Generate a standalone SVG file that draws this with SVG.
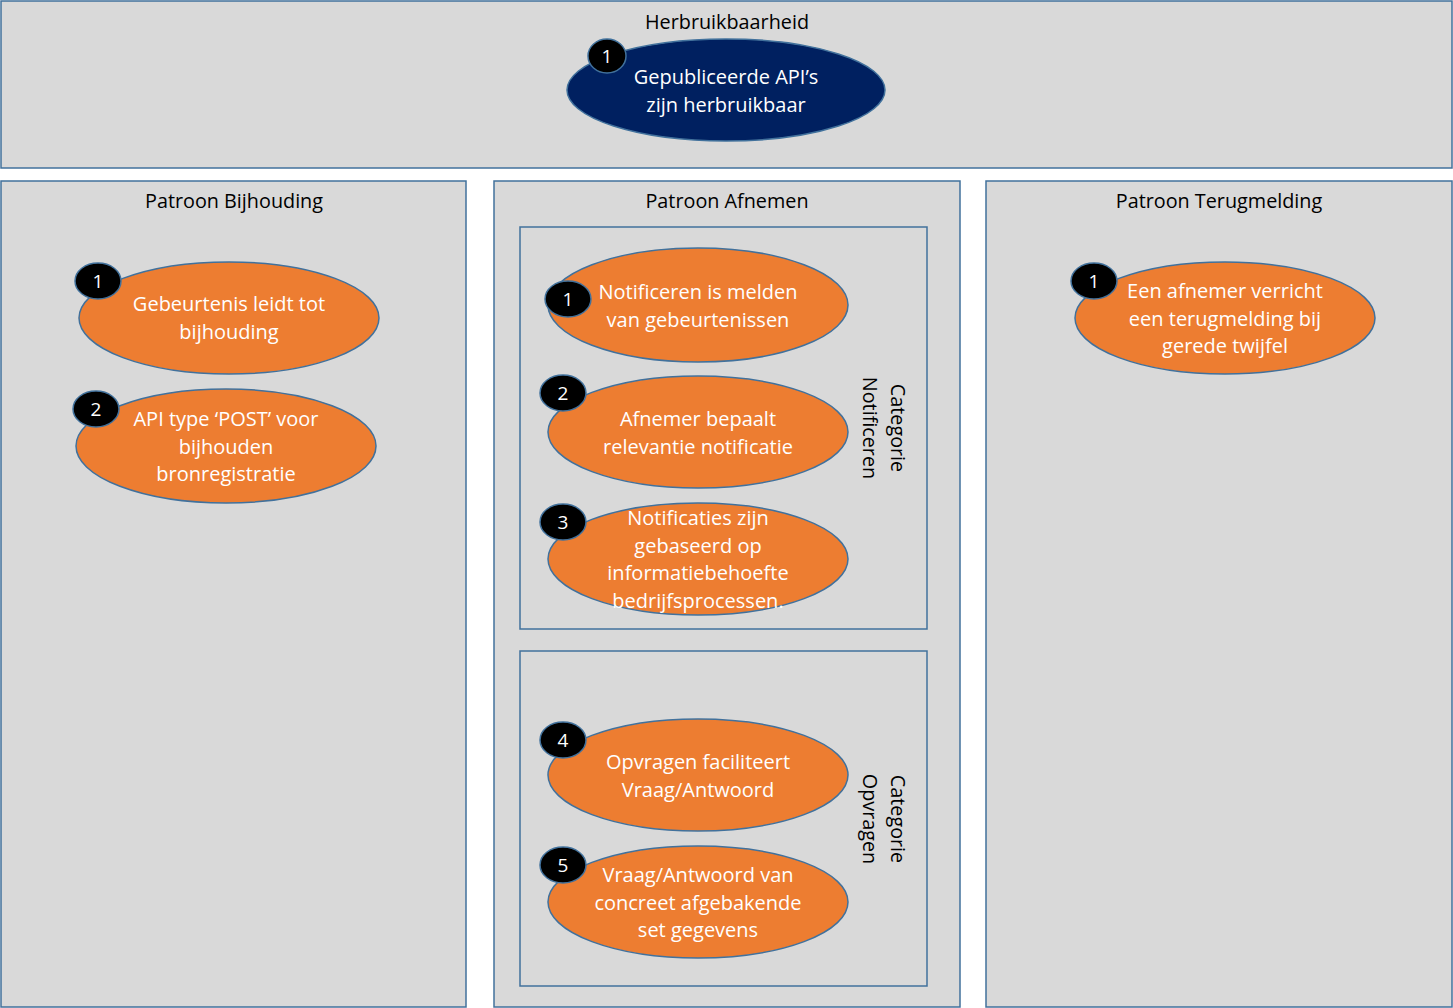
<svg xmlns="http://www.w3.org/2000/svg" width="1453" height="1008" viewBox="0 0 1453 1008">
<style>
.box{fill:#d9d9d9;stroke:#41719c;stroke-width:1.5}
.ibox{fill:none;stroke:#41719c;stroke-width:1.5}
.ttl{font-family:"Open Sans","Liberation Sans",sans-serif;font-size:19.8px;fill:#000;text-anchor:middle}
.ov{fill:#ed7d31;stroke:#41719c;stroke-width:1.5}
.nv{fill:#002060;stroke:#41719c;stroke-width:1.5}
.t{font-family:"Open Sans","Liberation Sans",sans-serif;font-size:20px;fill:#fff;text-anchor:middle}
.bd{fill:#000;stroke:#41719c;stroke-width:1.5}
.bt{font-family:"Open Sans","Liberation Sans",sans-serif;font-size:19px;fill:#fff;text-anchor:middle}
</style>
<rect width="1453" height="1008" fill="#fff"/>
<g id="herbruikbaarheid">
<rect class="box" x="1" y="1" width="1451" height="167"/>
<text class="ttl" x="727" y="29">Herbruikbaarheid</text>
</g>
<g id="bijhouding">
<rect class="box" x="1" y="181" width="465" height="826"/>
<text class="ttl" x="234" y="208">Patroon Bijhouding</text>
</g>
<g id="afnemen">
<rect class="box" x="494" y="181" width="466" height="826"/>
<text class="ttl" x="727" y="208">Patroon Afnemen</text>
</g>
<g id="terugmelding">
<rect class="box" x="986" y="181" width="466" height="826"/>
<text class="ttl" x="1219" y="208">Patroon Terugmelding</text>
</g>
<g id="cat-notificeren">
<rect class="ibox" x="520" y="227" width="407" height="402"/>
<text class="ttl" transform="translate(884,428) rotate(90)"><tspan x="0" y="-7">Categorie</tspan><tspan x="0" y="21">Notificeren</tspan></text>
</g>
<g id="cat-opvragen">
<rect class="ibox" x="520" y="651" width="407" height="335"/>
<text class="ttl" transform="translate(884,819) rotate(90)"><tspan x="0" y="-7">Categorie</tspan><tspan x="0" y="21">Opvragen</tspan></text>
</g>
<g id="h1">
<ellipse class="nv" cx="726" cy="90" rx="159" ry="51"/>
<text class="t" x="726" y="84">Gepubliceerde API’s</text>
<text class="t" x="726" y="112">zijn herbruikbaar</text>
<ellipse class="bd" cx="607" cy="56" rx="19" ry="17"/>
<text class="bt" x="607" y="63">1</text>
</g>
<g id="b1">
<ellipse class="ov" cx="229" cy="318" rx="150" ry="56"/>
<text class="t" x="229" y="311">Gebeurtenis leidt tot</text>
<text class="t" x="229" y="339">bijhouding</text>
<ellipse class="bd" cx="98" cy="281" rx="23" ry="18"/>
<text class="bt" x="98" y="288">1</text>
</g>
<g id="b2">
<ellipse class="ov" cx="226" cy="446" rx="150" ry="57"/>
<text class="t" x="226" y="426">API type ‘POST’ voor</text>
<text class="t" x="226" y="454">bijhouden</text>
<text class="t" x="226" y="481">bronregistratie</text>
<ellipse class="bd" cx="96" cy="409" rx="23" ry="18"/>
<text class="bt" x="96" y="416">2</text>
</g>
<g id="a1">
<ellipse class="ov" cx="698" cy="305" rx="150" ry="57"/>
<text class="t" x="698" y="299">Notificeren is melden</text>
<text class="t" x="698" y="327">van gebeurtenissen</text>
<ellipse class="bd" cx="568" cy="299" rx="23" ry="18"/>
<text class="bt" x="568" y="306">1</text>
</g>
<g id="a2">
<ellipse class="ov" cx="698" cy="432" rx="150" ry="56"/>
<text class="t" x="698" y="426">Afnemer bepaalt</text>
<text class="t" x="698" y="454">relevantie notificatie</text>
<ellipse class="bd" cx="563" cy="393" rx="23" ry="18"/>
<text class="bt" x="563" y="400">2</text>
</g>
<g id="a3">
<ellipse class="ov" cx="698" cy="559" rx="150" ry="56"/>
<text class="t" x="698" y="525">Notificaties zijn</text>
<text class="t" x="698" y="553">gebaseerd op</text>
<text class="t" x="698" y="580">informatiebehoefte</text>
<text class="t" x="698" y="608">bedrijfsprocessen.</text>
<ellipse class="bd" cx="563" cy="522" rx="23" ry="18"/>
<text class="bt" x="563" y="529">3</text>
</g>
<g id="a4">
<ellipse class="ov" cx="698" cy="775" rx="150" ry="56"/>
<text class="t" x="698" y="769">Opvragen faciliteert</text>
<text class="t" x="698" y="797">Vraag/Antwoord</text>
<ellipse class="bd" cx="563" cy="740" rx="23" ry="18"/>
<text class="bt" x="563" y="747">4</text>
</g>
<g id="a5">
<ellipse class="ov" cx="698" cy="902" rx="150" ry="56"/>
<text class="t" x="698" y="882">Vraag/Antwoord van</text>
<text class="t" x="698" y="910">concreet afgebakende</text>
<text class="t" x="698" y="937">set gegevens</text>
<ellipse class="bd" cx="563" cy="865" rx="23" ry="18"/>
<text class="bt" x="563" y="872">5</text>
</g>
<g id="t1">
<ellipse class="ov" cx="1225" cy="318" rx="150" ry="56"/>
<text class="t" x="1225" y="298">Een afnemer verricht</text>
<text class="t" x="1225" y="326">een terugmelding bij</text>
<text class="t" x="1225" y="353">gerede twijfel</text>
<ellipse class="bd" cx="1094" cy="281" rx="23" ry="18"/>
<text class="bt" x="1094" y="288">1</text>
</g>
<g id="connectors"></g>
</svg>
